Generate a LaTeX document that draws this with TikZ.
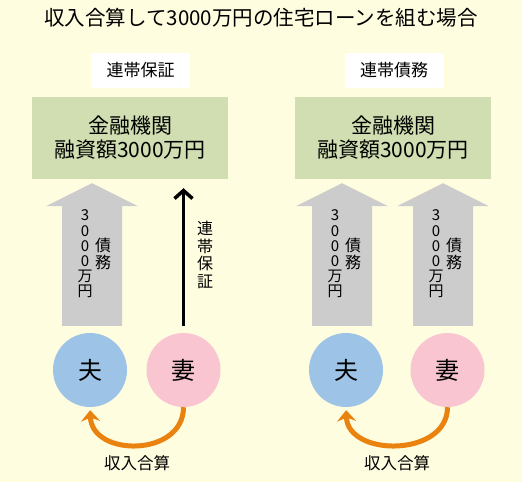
\documentclass[tikz,border=0pt]{standalone}
\usepackage{fontspec}
\setmainfont{Noto Sans CJK JP}
\usepackage{xcolor}
\usetikzlibrary{arrows.meta,calc}

\definecolor{bgyellow}{RGB}{255,253,224}
\definecolor{bankgreen}{RGB}{208,222,177}
\definecolor{husbblue}{RGB}{157,195,230}
\definecolor{wifepink}{RGB}{248,197,208}
\definecolor{debtgray}{RGB}{204,204,204}
\definecolor{incomeorange}{RGB}{234,130,16}

\begin{document}
\begin{tikzpicture}[x=1pt,y=1pt,
    bank/.style={fill=bankgreen,minimum width=196pt,minimum height=82pt,align=center,font=\fontsize{21}{24}\selectfont},
    tag/.style={fill=white,minimum width=99pt,minimum height=35pt,font=\fontsize{17}{20}\selectfont},
    person/.style={circle,minimum size=74pt,inner sep=0pt,font=\fontsize{24}{28}\selectfont},
    tate/.style={inner sep=0pt,align=center,font=\fontsize{16}{17.5}\selectfont},
    amount/.style={tate,font=\fontsize{15}{15.2}\selectfont},
    note/.style={font=\fontsize{16.5}{20}\selectfont},
    guar/.style={line width=3.5pt,-{Straight Barb[length=8pt,width=18pt]}},
    income/.style={incomeorange,line width=5pt,-{Stealth[length=11pt,width=19pt]}}]
    % Background
    \fill[bgyellow] (0,0) rectangle (522,482);
    \node (title) at (261,464) {\fontsize{20.5}{24}\selectfont 収入合算して3000万円の住宅ローンを組む場合};

    % Left: joint guarantee
    \node[tag] (tagL) at (140.5,411.5) {連帯保証};
    \node[bank] (bankL) at (130,344) {金融機関\\融資額3000万円};
    \node[person,fill=husbblue] (husbL) at (90,112) {夫};
    \node[person,fill=wifepink] (wifeL) at (183.5,112) {妻};
    \draw[guar,shorten <=7pt,shorten >=9pt] (wifeL) -- (wifeL |- bankL.south);
    \node[tate] (guarL) at (205,227) {連\\帯\\保\\証};
    \draw[income,shorten >=3pt] (wifeL.south) .. controls +(0,-50) and +(2,-50) .. (husbL.south);
    \node[note] (sumL) at (137,19) {収入合算};

    % Right: joint debt
    \node[tag] (tagR) at (394,411.5) {連帯債務};
    \node[bank] (bankR) at (393,344) {金融機関\\融資額3000万円};
    \node[person,fill=husbblue] (husbR) at (346,112) {夫};
    \node[person,fill=wifepink] (wifeR) at (447.5,112) {妻};
    \draw[income,shorten >=3pt] (wifeR.south) .. controls +(0,-50) and +(2,-50) .. (husbR.south);
    \node[note] (sumR) at (397,19) {収入合算};

    % Debt arrows
    \foreach \f/\t/\k/\d in {husbL/bankL/1/2,husbR/bankR/2/-4,wifeR/bankR/3/-4.5}{
      \fill[debtgray] let \p1=($(\f.north)+(\d,0)$), \p2=(\t.south) in
        (\x1-30pt,\y1+7pt) -- (\x1-30pt,\y2-27pt) -- (\x1-46pt,\y2-27pt) -- (\x1,\y2-4pt)
        -- (\x1+46pt,\y2-27pt) -- (\x1+30pt,\y2-27pt) -- (\x1+30pt,\y1+7pt) -- cycle;
      \path let \p1=($(\f.north)+(\d,0)$) in
        node[amount] (amt\k) at (\x1-7pt,228pt) {3\\0\\0\\0\\万\\円}
        node[tate] (debt\k) at (\x1+11pt,228pt) {債\\務};
    }
\end{tikzpicture}
\end{document}
